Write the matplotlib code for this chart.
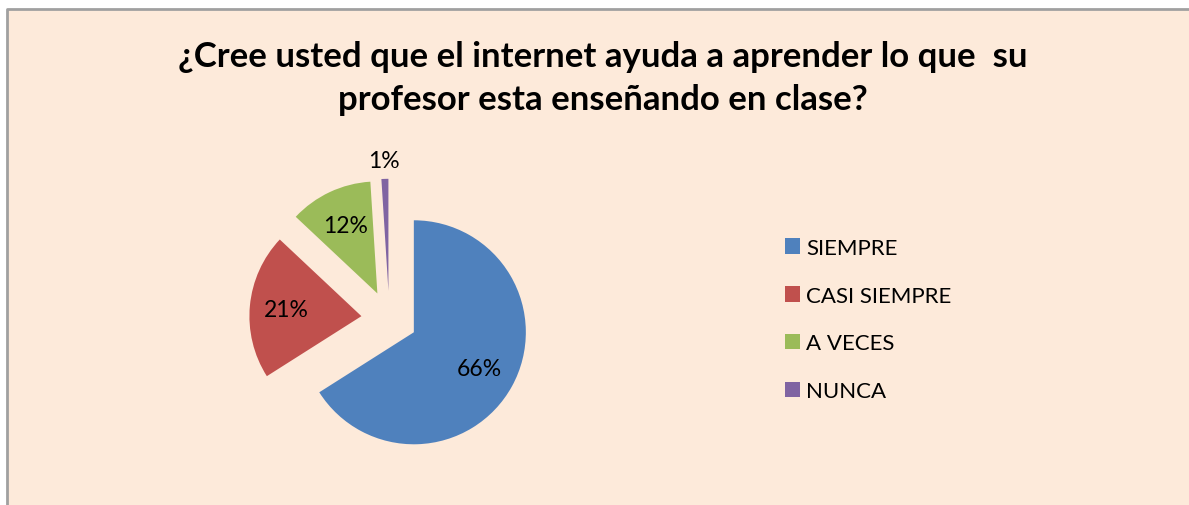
import matplotlib
matplotlib.use("Agg")
import matplotlib.pyplot as plt
from matplotlib.patches import Rectangle, Patch
from matplotlib.lines import Line2D
import numpy as np

plt.rcParams['font.family'] = ['Lato', 'DejaVu Sans']

title = "¿Cree usted que el internet ayuda a aprender lo que  su\nprofesor esta enseñando en clase?"
categories = ["SIEMPRE", "CASI SIEMPRE", "A VECES", "NUNCA"]
values = [66, 21, 12, 1]
colors = ["#4F81BD", "#C0504D", "#9BBB59", "#8064A2"]
bg = "#FDEADA"

W, H = 1189, 506
fig = plt.figure(figsize=(W / 100, H / 100), dpi=100)
fig.patch.set_facecolor("white")
# chart area, border only on top and left (bottom/right run off the picture)
fig.patches.append(Rectangle((7 / W, 0), 1.0, (H - 10) / H, transform=fig.transFigure,
                             facecolor=bg, edgecolor="none", zorder=-2))
fig.lines.append(Line2D([7 / W, 7 / W, 1.1], [-0.1, 1 - 10 / H, 1 - 10 / H],
                        transform=fig.transFigure, color="#A0A0A0", linewidth=2, zorder=-1))

ax = fig.add_axes([0, 0, 1, 1])
ax.patch.set_alpha(0)

center = (389.3, H - 319.8)
radius = 112
explode_frac = 0.25
wedges, texts, autotexts = ax.pie(values, colors=colors, startangle=90, counterclock=False,
                                  explode=[explode_frac * radius] * len(values),
                                  radius=radius, center=center,
                                  autopct=lambda p: f"{p:.0f}%", pctdistance=0.67,
                                  wedgeprops=dict(linewidth=0),
                                  textprops=dict(fontsize=16.5, color="black"))
ax.set_xlim(0, W)
ax.set_ylim(0, H)
ax.set_aspect("equal")
ax.axis("off")

# small slice: label outside
w = wedges[-1]
ang = np.deg2rad((w.theta1 + w.theta2) / 2)
cx, cy = w.center
autotexts[-1].set_position((cx + 1.16 * radius * np.cos(ang), cy + 1.16 * radius * np.sin(ang)))

fig.text(603 / W, 1 - 78.5 / H, title, ha="center", va="center", fontsize=25,
         fontweight="bold", linespacing=1.45)

handles = [Patch(facecolor=c, edgecolor="none") for c in colors]
leg = fig.legend(handles, categories, loc="upper left", bbox_to_anchor=(776 / W, 1 - 230 / H),
                 frameon=False, fontsize=16, handlelength=0.7, handleheight=0.7,
                 handletextpad=0.25, labelspacing=1.25, borderaxespad=0)

fig.savefig("out.png", dpi=100, facecolor=fig.get_facecolor())
